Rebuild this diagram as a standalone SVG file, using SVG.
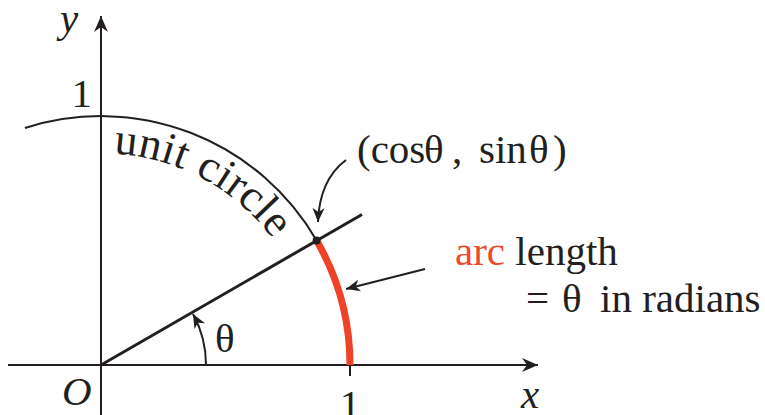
<svg xmlns="http://www.w3.org/2000/svg" width="765" height="415" viewBox="0 0 765 415">
<defs>
<style>
.t{font-family:"Liberation Serif","Times New Roman",serif;font-size:41px;fill:#231f20}
.i{font-style:italic}
.ln{fill:none;stroke:#231f20}
.red{fill:#ee4a30}
</style>
<marker id="ah" viewBox="-16 -8 17 16" markerWidth="17" markerHeight="16" refX="0" refY="0" orient="auto" markerUnits="userSpaceOnUse">
<path d="M0,0 L-16,-7 L-11,0 L-16,7 Z" fill="#231f20"/>
</marker>
<marker id="ahs" viewBox="-14 -7 15 14" markerWidth="15" markerHeight="14" refX="0" refY="0" orient="auto" markerUnits="userSpaceOnUse">
<path d="M0,0 L-14,-6 L-10,0 L-14,6 Z" fill="#231f20"/>
</marker>
<path id="tp" d="M 113.8 153.8 A 212 212 0 0 1 287 261"/>
</defs>
<g id="axes">
<path class="ln" stroke-width="2" d="M8 365 H538" marker-end="url(#ah)"/>
<path class="ln" stroke-width="2" d="M101 415 V16" marker-end="url(#ah)"/>
<path class="ln" stroke-width="2" d="M350 365 V376"/>
</g>
<g id="circle">
<path class="ln" stroke-width="2" d="M25 128 A249 249 0 0 1 316.6 240.5"/>
<path fill="none" stroke="#ee4326" stroke-width="7" d="M316.6 240.5 A249 249 0 0 1 350 365"/>
</g>
<g id="ray">
<path class="ln" stroke-width="3" d="M101 365 L362 214.5"/>
<circle cx="316.6" cy="240.5" r="4" fill="#231f20"/>
</g>
<g id="connectors">
<path class="ln" stroke-width="2" d="M346 160 C330 172 319 192 318 222" marker-end="url(#ahs)"/>
<path class="ln" stroke-width="2" d="M206 365 A105 105 0 0 0 193 314" marker-end="url(#ahs)"/>
<path class="ln" stroke-width="2" d="M425 269 L346 289" marker-end="url(#ahs)"/>
</g>
<g id="labels">
<text class="t i" x="60" y="32">y</text>
<text class="t" x="92" y="107" text-anchor="end">1</text>
<text class="t i" x="62" y="405">O</text>
<text class="t" x="350" y="418" text-anchor="middle">1</text>
<text class="t i" x="521" y="408">x</text>
<text class="t" x="215" y="352">θ</text>
<text class="t" style="font-size:45px"><textPath href="#tp" textLength="186" lengthAdjust="spacing">unit circle</textPath></text>
<text class="t" y="163"><tspan x="357">(cos</tspan><tspan x="424">θ</tspan><tspan x="452">,</tspan><tspan x="479">sin</tspan><tspan x="529">θ</tspan><tspan x="553">)</tspan></text>
<text class="t" x="455" y="265"><tspan class="red">arc</tspan> length</text>
<text class="t" y="312"><tspan x="526">=</tspan><tspan x="562">θ</tspan><tspan x="600">in radians</tspan></text>
</g>
</svg>
